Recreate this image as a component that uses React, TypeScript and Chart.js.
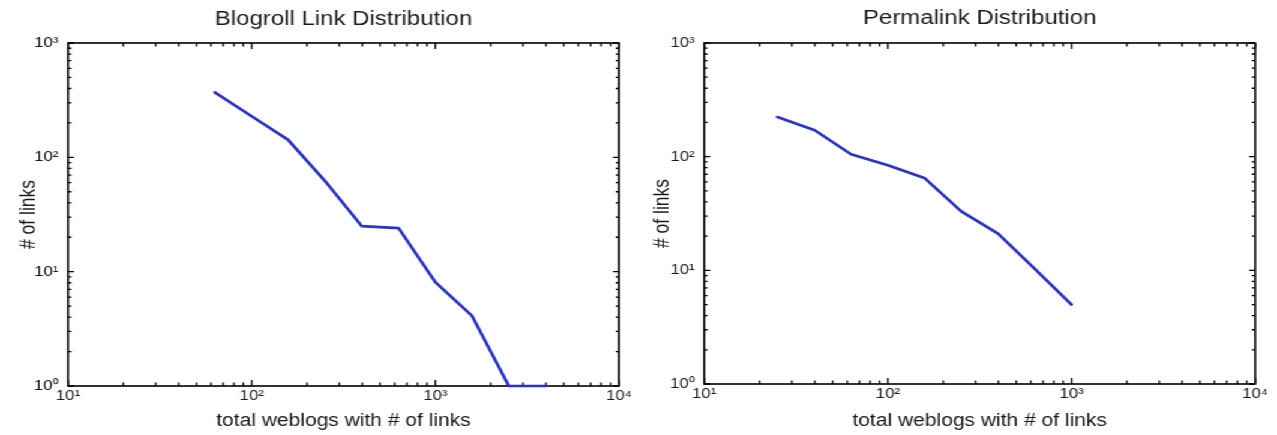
import React, { useEffect, useRef } from 'react';
import { Chart, registerables } from 'chart.js';

Chart.register(...registerables);

// ---- data ----
const blogrollX = [63, 100, 158, 251, 398, 631, 1000, 1585, 2512, 3981];
const blogrollY = [370, 229, 142, 62, 25, 24, 8.1, 4.1, 1, 1];

const permalinkX = [25, 40, 63, 100, 158, 251, 398, 631, 1000];
const permalinkY = [223, 171, 105, 84, 65, 33, 21, 10.3, 5];

const xTickValues = [10, 100, 1000, 10000];
const xTickLabels = ['10¹', '10²', '10³', '10⁴'];
const yTickValues = [1, 10, 100, 1000];
const yTickLabels = ['10⁰', '10¹', '10²', '10³'];

const chartTitles = ['Blogroll Link Distribution', 'Permalink Distribution'];
const xAxisTitle = 'total weblogs with # of links';
const yAxisTitle = '# of links';

// ---- styling ----
const FONT = "'Liberation Sans', Arial, Helvetica, sans-serif";
const TEXT = '#1a1a1a';
const LINE = 'rgb(40, 52, 200)';
const STRETCH = 1277 / 1064;
const W = 532;
const H = 435;

type Geom = {
  yWidth: number;
  yRightWidth: number;
  xHeight: number;
  yTitlePad: number;
  titlePadTop: number;
  titlePadBottom: number;
};

const geoms: Geom[] = [
  { yWidth: 56.7, yRightWidth: 16.2, xHeight: 49, yTitlePad: 13.5, titlePadTop: 7, titlePadBottom: 12 },
  { yWidth: 54.7, yRightWidth: 18.2, xHeight: 51, yTitlePad: 9.5, titlePadTop: 6, titlePadBottom: 13 },
];

const framePlugin = {
  id: 'frame',
  beforeDatasetsDraw(chart: any) {
    const { ctx, chartArea: a, scales } = chart;
    const xs = scales.x;
    const ys = scales.y;
    ctx.save();
    ctx.strokeStyle = '#000';
    ctx.lineWidth = 1.6;
    ctx.strokeRect(a.left, a.top, a.right - a.left, a.bottom - a.top);
    ctx.lineWidth = 1.3;
    ctx.beginPath();
    // x ticks (bottom + top, inward)
    for (let e = 1; e <= 4; e++) {
      for (let m = 1; m <= 9; m++) {
        const v = m * Math.pow(10, e);
        if (v > 10000.0001) continue;
        const px = xs.getPixelForValue(v);
        const len = m === 1 ? 6 : 3.5;
        ctx.moveTo(px, a.bottom);
        ctx.lineTo(px, a.bottom - len);
        ctx.moveTo(px, a.top);
        ctx.lineTo(px, a.top + len);
      }
    }
    // y ticks (left + right, inward)
    for (let e = 0; e <= 3; e++) {
      for (let m = 1; m <= 9; m++) {
        const v = m * Math.pow(10, e);
        if (v > 1000.0001) continue;
        const py = ys.getPixelForValue(v);
        const len = m === 1 ? 5 : 2.8;
        ctx.moveTo(a.left, py);
        ctx.lineTo(a.left + len, py);
        ctx.moveTo(a.right, py);
        ctx.lineTo(a.right - len, py);
      }
    }
    ctx.stroke();
    ctx.restore();
  },
};

function LogChart({ xs, ys, title, geom }: { xs: number[]; ys: number[]; title: string; geom: Geom }) {
  const ref = useRef<HTMLCanvasElement | null>(null);

  useEffect(() => {
    if (!ref.current) return;
    const tickFont = { family: FONT, size: 14 };
    const chart = new Chart(ref.current, {
      type: 'line',
      data: {
        datasets: [
          {
            data: xs.map((x, i) => ({ x, y: ys[i] })),
            borderColor: LINE,
            borderWidth: 2.7,
            borderJoinStyle: 'round',
            borderCapStyle: 'round',
            pointRadius: 0,
            fill: false,
            tension: 0,
            clip: false as any,
          },
        ],
      },
      options: {
        animation: false,
        responsive: false,
        layout: { padding: 0 },
        plugins: {
          legend: { display: false },
          tooltip: { enabled: false },
          title: {
            display: true,
            text: title,
            fullSize: false,
            color: TEXT,
            font: { family: FONT, size: 20, weight: 'normal' as any, lineHeight: 1.2 },
            padding: { top: geom.titlePadTop, bottom: geom.titlePadBottom },
          },
        },
        scales: {
          x: {
            type: 'logarithmic',
            min: 10,
            max: 10000,
            grid: { display: false, drawTicks: false },
            border: { display: false },
            afterBuildTicks: (s: any) => {
              s.ticks = xTickValues.map((v) => ({ value: v }));
            },
            afterFit: (s: any) => {
              s.height = geom.xHeight;
            },
            ticks: {
              autoSkip: false,
              maxRotation: 0,
              padding: 2,
              color: TEXT,
              font: tickFont,
              callback: (_v: any, i: number) => xTickLabels[i],
            },
            title: {
              display: true,
              text: xAxisTitle,
              color: TEXT,
              font: { family: FONT, size: 17.5, lineHeight: 1.2 },
              padding: { top: 0, bottom: 3.5 },
            },
          },
          y: {
            type: 'logarithmic',
            min: 1,
            max: 1000,
            grid: { display: false, drawTicks: false },
            border: { display: false },
            afterBuildTicks: (s: any) => {
              s.ticks = yTickValues.map((v) => ({ value: v }));
            },
            afterFit: (s: any) => {
              s.width = geom.yWidth;
            },
            ticks: {
              autoSkip: false,
              padding: 8,
              color: TEXT,
              font: tickFont,
              callback: (_v: any, i: number) => yTickLabels[i],
            },
            title: {
              display: true,
              text: yAxisTitle,
              color: TEXT,
              font: { family: FONT, size: 17.5, lineHeight: 1.2 },
              padding: { top: geom.yTitlePad, bottom: 0 },
            },
          },
          y2: {
            type: 'logarithmic',
            position: 'right',
            min: 1,
            max: 1000,
            grid: { display: false, drawTicks: false },
            border: { display: false },
            ticks: { display: false },
            afterFit: (s: any) => {
              s.width = geom.yRightWidth;
            },
          },
        },
      } as any,
      plugins: [framePlugin],
    });
    return () => chart.destroy();
  }, [xs, ys, title, geom]);

  return (
    <div style={{ width: W, height: H, flex: '0 0 auto' }}>
      <canvas ref={ref} width={W} height={H} style={{ display: 'block' }} />
    </div>
  );
}

export default function App() {
  return (
    <div
      style={{
        position: 'absolute',
        left: 0,
        top: 0,
        width: W * 2,
        height: H,
        display: 'flex',
        background: '#fff',
        transform: `scaleX(${STRETCH})`,
        transformOrigin: '0 0',
      }}
    >
      <LogChart xs={blogrollX} ys={blogrollY} title={chartTitles[0]} geom={geoms[0]} />
      <LogChart xs={permalinkX} ys={permalinkY} title={chartTitles[1]} geom={geoms[1]} />
    </div>
  );
}
